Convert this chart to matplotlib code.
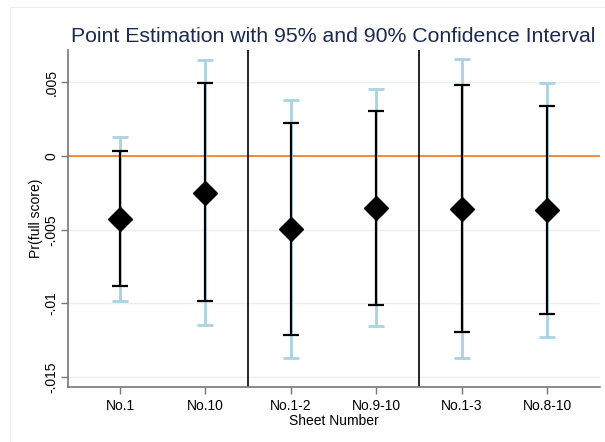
import numpy as np
import matplotlib.pyplot as plt
from matplotlib.patches import Rectangle

plt.rcParams['font.family'] = ['Liberation Sans', 'DejaVu Sans']

# data
labels = ['No.1', 'No.10', 'No.1-2', 'No.9-10', 'No.1-3', 'No.8-10']
point = [-0.00430, -0.00249, -0.00497, -0.00355, -0.00360, -0.00366]
lo90 = [-0.00884, -0.00986, -0.01217, -0.01011, -0.01194, -0.01074]
hi90 = [0.00034, 0.00493, 0.00226, 0.00307, 0.00480, 0.00341]
lo95 = [-0.00982, -0.01147, -0.01368, -0.01153, -0.01373, -0.01226]
hi95 = [0.00129, 0.00651, 0.00380, 0.00452, 0.00658, 0.00493]
yticks = [0.005, 0, -0.005, -0.01, -0.015]
yticklabels = ['.005', '0', '-.005', '-.01', '-.015']
separators = [2.5, 4.5]

x = np.arange(1, len(labels) + 1)
point = np.array(point)

fig = plt.figure(figsize=(6.05, 4.42), dpi=100)
ax = fig.add_axes([68/605, 1 - 386.7/442, (600-68)/605, (386.7-50)/442])

# faint outer frame of the graph region
fig.patches.append(Rectangle((10/605, -0.1), 1.2, 1 - 7/442 + 0.1, transform=fig.transFigure,
                             fill=False, ec='#e6edf1', lw=0.8))

ax.grid(axis='y', color='#e8f0f2', lw=1.0)
ax.set_axisbelow(True)

ax.axhline(0, color='#f4822a', lw=1.3, zorder=1)
for s in separators:
    ax.axvline(s, color='black', lw=1.2, zorder=1)

ax.errorbar(x, point, yerr=[point - np.array(lo95), np.array(hi95) - point],
            fmt='none', ecolor='#a9d3e2', elinewidth=2, capsize=6, capthick=2, zorder=2)
ax.errorbar(x, point, yerr=[point - np.array(lo90), np.array(hi90) - point],
            fmt='none', ecolor='black', elinewidth=1.6, capsize=6, capthick=1.6, zorder=3)
ax.plot(x, point, 'D', color='black', ms=12, zorder=4)

ax.set_xlim(0.39, 6.62)
ax.set_ylim(-0.01565, 0.00719)
ax.set_xticks(x)
ax.set_xticklabels(labels, fontsize=10)
ax.set_yticks(yticks)
ax.set_yticklabels(yticklabels, fontsize=10, rotation=90, va='center')
ax.set_xlabel('Sheet Number', fontsize=10, labelpad=1)
ax.set_ylabel('Pr(full score)', fontsize=10, labelpad=1)

for sp in ['top', 'right']:
    ax.spines[sp].set_visible(False)
for sp in ['left', 'bottom']:
    ax.spines[sp].set_color('#777777')
    ax.spines[sp].set_linewidth(1.2)
ax.tick_params(colors='#777777', labelcolor='black', length=5, width=1)
ax.tick_params(axis='y', pad=2)

fig.text(333/605, 1 - 36/442, 'Point Estimation with 95% and 90% Confidence Interval',
         ha='center', va='center', fontsize=15.3, color='#1c2a50')

fig.savefig('out.png', dpi=100)
